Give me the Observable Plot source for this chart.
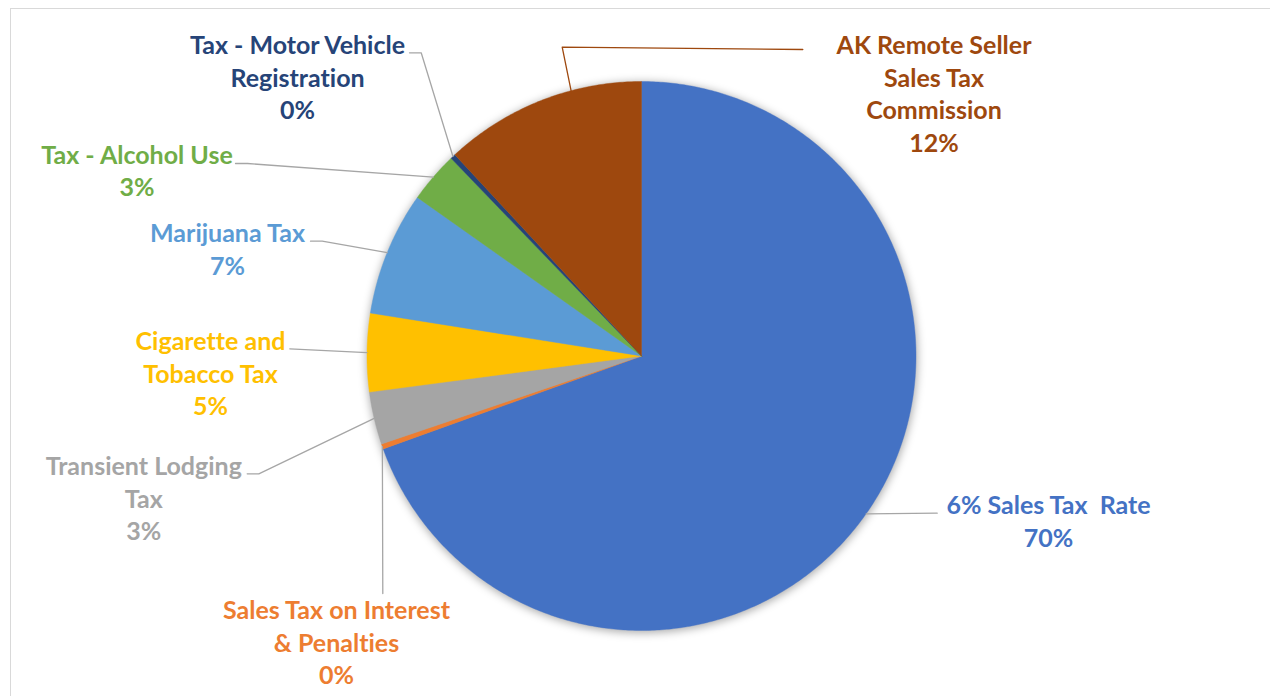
<!DOCTYPE html>
<html><head><meta charset="utf-8">
<script src="https://cdn.jsdelivr.net/npm/d3@7"></script>
<script src="https://cdn.jsdelivr.net/npm/@observablehq/plot@0.6"></script>
<style>
html,body{margin:0;padding:0;background:#fff;overflow:hidden}
#wrap{position:relative;width:1270px;height:696px;overflow:hidden;background:#fff}
#frame{position:absolute;left:10px;top:8px;width:1300px;height:720px;border:1.5px solid #d9d9d9;box-sizing:border-box;pointer-events:none;z-index:2}
#chart{position:absolute;left:0;top:0;z-index:1}
#chart text, #chart tspan{font-variant-ligatures:none;font-feature-settings:"liga" 0}
</style></head><body>
<div id="wrap"><div id="chart"></div><div id="frame"></div></div>
<script>
// ---- data (clockwise from 12 o'clock) ----
const categories = [
  "6% Sales Tax  Rate",
  "Sales Tax on Interest & Penalties",
  "Transient Lodging Tax",
  "Cigarette and Tobacco Tax",
  "Marijuana Tax",
  "Tax - Alcohol Use",
  "Tax - Motor Vehicle Registration",
  "AK Remote Seller Sales Tax Commission"
];
const shares = [69.5, 0.3, 3.1, 4.6, 7.3, 3.0, 0.3, 11.9];
const labelLines = [
  ["6% Sales Tax  Rate"],
  ["Sales Tax on Interest", "& Penalties"],
  ["Transient Lodging", "Tax"],
  ["Cigarette and", "Tobacco Tax"],
  ["Marijuana Tax"],
  ["Tax - Alcohol Use"],
  ["Tax - Motor Vehicle", "Registration"],
  ["AK Remote Seller", "Sales Tax", "Commission"]
];
const colors = ["#4472C4", "#ED7D31", "#A5A5A5", "#FFC000", "#5B9BD5", "#70AD47", "#264478", "#9E480E"];

// ---- layout (pixel space) ----
const pie = {cx: 641, cy: 355.5, r: 274.5};
const layout = [
  {lx: 1048, ly: 519.7, path: [[936.7, 512.7]], frac: 0.5, lead: "#A6A6A6"},
  {lx: 336, ly: 640.6, path: [[382.3, 593]], frac: 0.5, lead: "#A6A6A6"},
  {lx: 143.3, ly: 496.6, path: [[258.3, 473.3], [246.7, 473.3]], frac: 0.5, lead: "#A6A6A6"},
  {lx: 210, ly: 371.7, path: [[289.3, 348.3]], frac: 0.5, lead: "#A6A6A6"},
  {lx: 227, ly: 247.7, path: [[321.7, 240.7], [310, 240.7]], frac: 0.5, lead: "#A6A6A6"},
  {lx: 136.5, ly: 169, path: [[247, 163], [235, 163]], frac: 0.5, lead: "#A6A6A6"},
  {lx: 297, ly: 75.7, path: [[420.7, 52.3], [409, 52.3]], frac: 0.5, lead: "#A6A6A6"},
  {lx: 933.5, ly: 92, path: [[561.7, 46.7], [802.3, 49]], frac: 0.653, lead: "#9E480E"}
];

const TAU = Math.PI * 2;
const total = d3.sum(shares);
const pt = (a, r) => ({x: pie.cx + r * Math.sin(a), y: pie.cy - r * Math.cos(a)});
let acc = 0;
const slices = shares.map((v, i) => {
  const a0 = acc / total * TAU; acc += v; const a1 = acc / total * TAU;
  const n = Math.max(2, Math.ceil((a1 - a0) / (TAU / 720)));
  const pts = [{x: pie.cx, y: pie.cy}];
  for (let k = 0; k <= n; k++) pts.push(pt(a0 + (a1 - a0) * k / n, pie.r));
  pts.push({x: pie.cx, y: pie.cy});
  return {i, a0, a1, pts};
});

const SHADOW = "#010203";
const shadowPts = d3.range(0, 721).map(k => {
  const p = pt(k / 720 * TAU, pie.r + 1);
  return {x: p.x + 0.5, y: p.y + 1.5};
});

const leaders = [];
slices.forEach(s => {
  const L = layout[s.i];
  const a = s.a0 + (s.a1 - s.a0) * L.frac;
  const p0 = pt(a, pie.r);
  leaders.push({name: categories[s.i], x: p0.x, y: p0.y, c: L.lead});
  L.path.forEach(([x, y]) => leaders.push({name: categories[s.i], x, y, c: L.lead}));
});

const labels = categories.map((c, i) => ({
  text: labelLines[i].join("\n") + "\n" + Math.round(shares[i]) + "%",
  x: layout[i].lx, y: layout[i].ly, color: colors[i]
}));

const svg = Plot.plot({
  width: 1270, height: 696, margin: 0,
  style: {background: "transparent", overflow: "visible"},
  x: {domain: [0, 1270], range: [0, 1270], axis: null},
  y: {domain: [0, 696], range: [0, 696], axis: null},
  color: {type: "identity"},
  marks: [
    Plot.line(shadowPts, {x: "x", y: "y", fill: SHADOW, fillOpacity: 0.32, stroke: "none"}),
    ...slices.map(s => Plot.line(s.pts, {x: "x", y: "y", fill: colors[s.i], stroke: colors[s.i], strokeWidth: 0.4})),
    Plot.line(leaders, {x: "x", y: "y", z: "name", stroke: "c", strokeWidth: 1.3}),
    Plot.text(labels, {x: "x", y: "y", text: "text", fill: "color", fontFamily: "Lato", fontWeight: "bold", fontSize: 25, lineHeight: 1.3, lineAnchor: "middle", textAnchor: "middle"})
  ]
});

const ns = "http://www.w3.org/2000/svg";
const defs = document.createElementNS(ns, "defs");
defs.innerHTML = '<filter id="pieShadow" x="-20%" y="-20%" width="140%" height="140%"><feGaussianBlur stdDeviation="4.5"/></filter>';
svg.insertBefore(defs, svg.firstChild);
const sh = svg.querySelector('g[fill="' + SHADOW + '"]');
if (sh) sh.setAttribute("filter", "url(#pieShadow)");
document.getElementById("chart").appendChild(svg);
</script>
</body></html>
